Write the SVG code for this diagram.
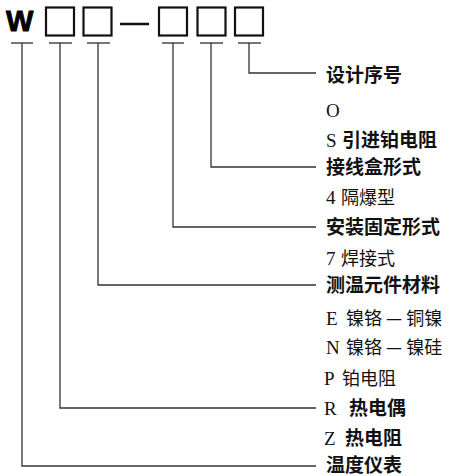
<svg xmlns="http://www.w3.org/2000/svg" width="450" height="476" viewBox="0 0 450 476">
<style>
.box{fill:none;stroke:#111;stroke-width:2.2}
.tick{stroke:#555;stroke-width:1.6}
.conn{fill:none;stroke:#333;stroke-width:1.3}
.h{font-family:"Noto Sans CJK SC","Noto Sans",sans-serif;font-weight:bold;font-size:19px;fill:#111}
.lat{font-family:"Liberation Serif",serif;font-size:19px;fill:#111}
.cn{font-family:"Noto Sans CJK SC",sans-serif;font-size:18px;fill:#111}
.cnb{font-family:"Noto Sans CJK SC",sans-serif;font-weight:bold;font-size:19px;fill:#111}
</style>
<rect width="450" height="476" fill="#fff"/>
<g id="code">
  <text x="6" y="31" font-family="Liberation Sans,Arial,sans-serif" font-weight="bold" font-size="29" fill="#000" stroke="#000" stroke-width="0.9">W</text>
  <rect class="box" x="46" y="7.5" width="28" height="28"/>
  <rect class="box" x="83.5" y="7.5" width="28" height="28"/>
  <line x1="120" y1="24" x2="149" y2="24" stroke="#111" stroke-width="2.5"/>
  <rect class="box" x="159" y="7.5" width="28" height="28"/>
  <rect class="box" x="197.5" y="7.5" width="28" height="28"/>
  <rect class="box" x="235" y="7.5" width="28" height="28"/>
</g>
<g id="ticks">
  <line class="tick" x1="11" y1="43" x2="33" y2="43"/>
  <line class="tick" x1="49" y1="43" x2="72" y2="43"/>
  <line class="tick" x1="87" y1="43" x2="110" y2="43"/>
  <line class="tick" x1="162" y1="43" x2="184" y2="43"/>
  <line class="tick" x1="200" y1="43" x2="223" y2="43"/>
  <line class="tick" x1="238" y1="43" x2="261" y2="43"/>
</g>
<g id="connectors">
  <polyline class="conn" points="249,43 249,73 316,73"/>
  <polyline class="conn" points="211,43 211,167 316,167"/>
  <polyline class="conn" points="173,43 173,227 316,227"/>
  <polyline class="conn" points="98,43 98,285 316,285"/>
  <polyline class="conn" points="60,43 60,408 316,408"/>
  <polyline class="conn" points="22,43 22,466 316,466"/>
</g>
<g id="n-sheji"><text class="h" x="326" y="82">设计序号</text></g>
<g id="n-O"><text class="lat" x="326" y="117">O</text></g>
<g id="n-S"><text class="lat" x="326" y="147">S</text><text class="cnb" x="342" y="147">引进铂电阻</text></g>
<g id="n-jiexian"><text class="h" x="326" y="174">接线盒形式</text></g>
<g id="n-4"><text class="lat" x="326" y="204">4</text><text class="cn" x="341" y="204">隔爆型</text></g>
<g id="n-anzhuang"><text class="h" x="326" y="234">安装固定形式</text></g>
<g id="n-7"><text class="lat" x="326" y="265">7</text><text class="cn" x="341" y="265">焊接式</text></g>
<g id="n-cewen"><text class="h" x="326" y="292">测温元件材料</text></g>
<g id="n-E"><text class="lat" x="326" y="325">E</text><text class="cn" x="346" y="325" xml:space="preserve">镍铬 — 铜镍</text></g>
<g id="n-N"><text class="lat" x="326" y="354">N</text><text class="cn" x="346" y="354" xml:space="preserve">镍铬 — 镍硅</text></g>
<g id="n-P"><text class="lat" x="324" y="385">P</text><text class="cn" x="342" y="385">铂电阻</text></g>
<g id="n-R"><text class="lat" x="324" y="415">R</text><text class="cnb" x="349" y="415">热电偶</text></g>
<g id="n-Z"><text class="lat" x="324" y="445">Z</text><text class="cnb" x="345" y="445">热电阻</text></g>
<g id="n-wendu"><text class="h" x="326" y="472">温度仪表</text></g>
</svg>
